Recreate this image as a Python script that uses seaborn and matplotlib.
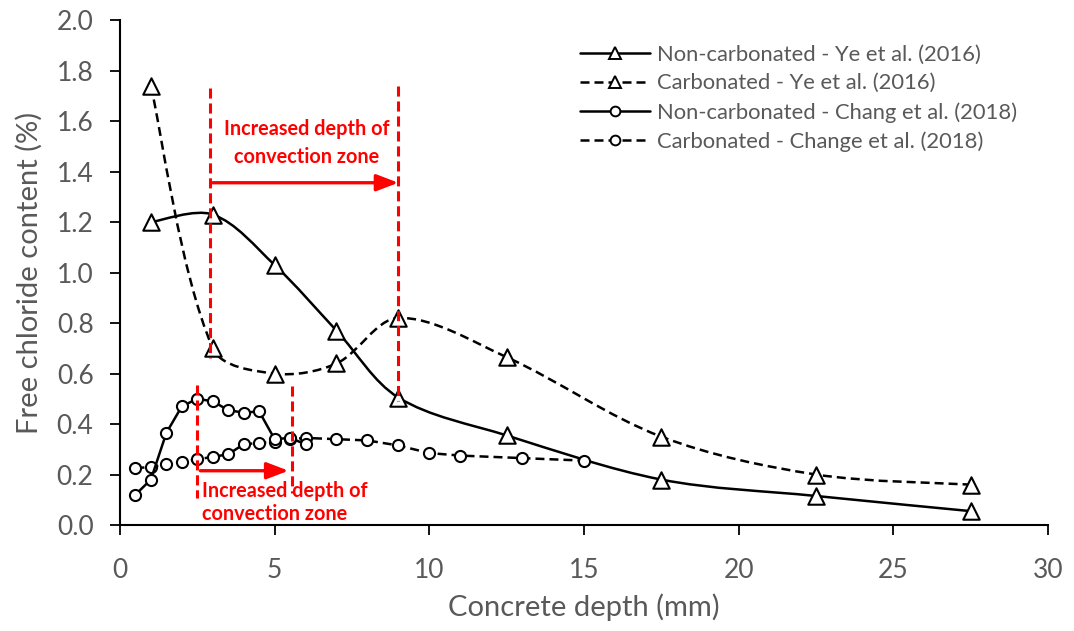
import numpy as np
import pandas as pd
import matplotlib
matplotlib.use("Agg")
import matplotlib.pyplot as plt
from matplotlib.path import Path
from matplotlib.patches import PathPatch
from matplotlib.lines import Line2D
import seaborn as sns

# ---- data ----
ye_depth = [1, 3, 5, 7, 9, 12.5, 17.5, 22.5, 27.5]
ye_noncarb = [1.20, 1.23, 1.03, 0.77, 0.505, 0.355, 0.18, 0.115, 0.055]
ye_carb = [1.74, 0.70, 0.60, 0.64, 0.82, 0.665, 0.35, 0.20, 0.16]

chang_nc_depth = [0.5, 1, 1.5, 2, 2.5, 3, 3.5, 4, 4.5, 5, 5.5, 6]
chang_noncarb = [0.12, 0.18, 0.365, 0.47, 0.50, 0.49, 0.455, 0.445, 0.45, 0.34, 0.345, 0.32]

chang_c_depth = [0.5, 1, 1.5, 2, 2.5, 3, 3.5, 4, 4.5, 5, 5.5, 6, 7, 8, 9, 10, 11, 13, 15]
chang_carb = [0.225, 0.23, 0.24, 0.25, 0.26, 0.27, 0.28, 0.32, 0.325, 0.33, 0.34, 0.345,
              0.34, 0.335, 0.315, 0.285, 0.275, 0.265, 0.255]

labels = ["Non-carbonated - Ye et al. (2016)",
          "Carbonated - Ye et al. (2016)",
          "Non-carbonated - Chang et al. (2018)",
          "Carbonated - Change et al. (2018)"]

annot_line1 = "Increased depth of"
annot_line2 = "convection zone"

x_ticks = [0, 5, 10, 15, 20, 25, 30]
y_ticks = [0.0, 0.2, 0.4, 0.6, 0.8, 1.0, 1.2, 1.4, 1.6, 1.8, 2.0]

sns.set_theme(style="white")
plt.rcParams['font.family'] = ['Lato', 'DejaVu Sans']
GRAY = "#595959"

fig = plt.figure(figsize=(10.74, 6.31), dpi=100)
ax = fig.add_axes([0.1117, 0.168, 0.864, 0.800])
ax.set_xlim(0, 30)
ax.set_ylim(0, 2.0)


def smooth_path(xs, ys):
    """Excel-like smoothed line: cubic Bezier, tangents weighted by segment lengths
    (computed in display space)."""
    pts_d = np.column_stack([xs, ys]).astype(float)
    pts = ax.transData.transform(pts_d)
    n = len(pts)
    verts = [pts[0]]
    codes = [Path.MOVETO]
    for i in range(n - 1):
        p0 = pts[max(i - 1, 0)]
        p1 = pts[i]
        p2 = pts[i + 1]
        p3 = pts[min(i + 2, n - 1)]
        d01 = np.linalg.norm(p1 - p0)
        d12 = np.linalg.norm(p2 - p1)
        d23 = np.linalg.norm(p3 - p2)
        f1 = d12 / (3.0 * (d01 + d12)) if d01 > 0 else 1.0 / 6.0
        f2 = d12 / (3.0 * (d12 + d23)) if d23 > 0 else 1.0 / 6.0
        c1 = p1 + (p2 - p0) * f1
        c2 = p2 - (p3 - p1) * f2
        verts += [c1, c2, p2]
        codes += [Path.CURVE4] * 3
    verts = ax.transData.inverted().transform(np.array(verts))
    return Path(verts, codes)


lw = 1.8
bdash = (0, (3.6, 2.0))
# Ye smoothed lines
ax.add_patch(PathPatch(smooth_path(ye_depth, ye_noncarb), fill=False, edgecolor="black",
                       lw=lw, zorder=2))
ax.add_patch(PathPatch(smooth_path(ye_depth, ye_carb), fill=False, edgecolor="black",
                       lw=lw, linestyle=bdash, zorder=2))

# Chang straight lines
df_cnc = pd.DataFrame({"x": chang_nc_depth, "y": chang_noncarb})
df_cc = pd.DataFrame({"x": chang_c_depth, "y": chang_carb})
sns.lineplot(data=df_cc, x="x", y="y", ax=ax, color="black", lw=lw,
             linestyle=bdash, marker="o", markersize=8, markerfacecolor="white",
             markeredgecolor="black", markeredgewidth=1.5, sort=False, zorder=3)
sns.lineplot(data=df_cnc, x="x", y="y", ax=ax, color="black", lw=lw,
             marker="o", markersize=8, markerfacecolor="white",
             markeredgecolor="black", markeredgewidth=1.5, sort=False, zorder=3)

# Ye markers
df_ync = pd.DataFrame({"x": ye_depth, "y": ye_noncarb})
df_yc = pd.DataFrame({"x": ye_depth, "y": ye_carb})
for d in (df_ync, df_yc):
    sns.scatterplot(data=d, x="x", y="y", ax=ax, marker="^", s=140, facecolor="white",
                    edgecolor="black", linewidth=1.5, zorder=4)

# red annotations
red = "#FF0000"
rdash = (0, (3.3, 1.6))
rlw = 2.2
ax.plot([2.9, 2.9], [1.73, 0.66], color=red, lw=rlw, linestyle=rdash, zorder=5)
ax.plot([9.0, 9.0], [1.74, 0.49], color=red, lw=rlw, linestyle=rdash, zorder=5)
ax.plot([2.5, 2.5], [0.554, 0.105], color=red, lw=rlw, linestyle=rdash, zorder=5)
ax.plot([5.55, 5.55], [0.55, 0.125], color=red, lw=rlw, linestyle=rdash, zorder=5)
arrow_style = dict(arrowstyle="-|>,head_length=1.1,head_width=0.42", color=red, lw=2.4,
                   shrinkA=0, shrinkB=0)
ax.annotate("", xy=(9.0, 1.356), xytext=(3.0, 1.356), arrowprops=arrow_style, zorder=5)
ax.annotate("", xy=(5.45, 0.215), xytext=(2.6, 0.215), arrowprops=arrow_style, zorder=5)
tkw = dict(color=red, fontsize=14.3, fontweight="bold", va="baseline", zorder=6)
ax.text(6.03, 1.545, annot_line1, ha="center", **tkw)
ax.text(6.03, 1.435, annot_line2, ha="center", **tkw)
ax.text(2.65, 0.111, annot_line1, ha="left", **tkw)
ax.text(2.65, 0.020, annot_line2, ha="left", **tkw)

# axes styling
ax.set_xticks(x_ticks)
ax.set_yticks(y_ticks)
ax.set_xticklabels([str(t) for t in x_ticks])
ax.set_yticklabels([f"{t:.1f}" for t in y_ticks])
ax.tick_params(axis="both", labelcolor=GRAY, color="black", labelsize=19,
               direction="out", length=7, width=1.3, bottom=True, left=True)
ax.tick_params(axis="x", pad=17)
ax.tick_params(axis="y", pad=12)
for s in ("top", "right"):
    ax.spines[s].set_visible(False)
for s in ("left", "bottom"):
    ax.spines[s].set_color("black")
    ax.spines[s].set_linewidth(1.5)
ax.set_xlabel("Concrete depth (mm)", color=GRAY, fontsize=21, labelpad=7)
ax.set_ylabel("Free chloride content (%)", color=GRAY, fontsize=21, labelpad=10)

mk = dict(markerfacecolor="white", markeredgecolor="black", markeredgewidth=1.4)
handles = [
    Line2D([], [], color="black", lw=lw, marker="^", markersize=9, **mk),
    Line2D([], [], color="black", lw=lw, linestyle=bdash, marker="^", markersize=9, **mk),
    Line2D([], [], color="black", lw=lw, marker="o", markersize=7, **mk),
    Line2D([], [], color="black", lw=lw, linestyle=bdash, marker="o", markersize=7, **mk),
]
leg = ax.legend(handles, labels, loc="upper left", bbox_to_anchor=(0.4957, 0.952),
                frameon=False, fontsize=15.8, handlelength=3.2, labelspacing=0.4,
                handletextpad=0.3, borderpad=0, borderaxespad=0)
for t in leg.get_texts():
    t.set_color(GRAY)

fig.savefig("out.png", dpi=100)
